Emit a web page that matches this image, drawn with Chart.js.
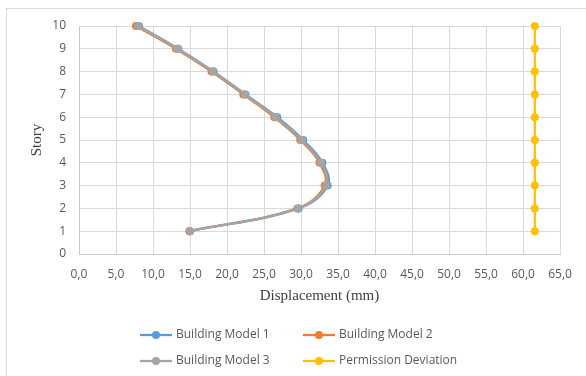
<!DOCTYPE html>
<html>
<head>
<meta charset="utf-8">
<script src="https://cdn.jsdelivr.net/npm/chart.js@4/dist/chart.umd.min.js"></script>
<style>
  html, body { margin: 0; padding: 0; background: #fff; }
  #wrap { width: 586px; height: 376px; position: relative; }
</style>
</head>
<body>
<div id="wrap"><canvas id="c" width="586" height="376"></canvas></div>
<script>
const stories = [1, 2, 3, 4, 5, 6, 7, 8, 9, 10];
const model1 = [15.0, 29.7, 33.6, 32.9, 30.3, 26.8, 22.5, 18.2, 13.4, 8.1];
const model2 = [14.9, 29.5, 33.2, 32.5, 29.9, 26.4, 22.2, 17.9, 13.1, 7.7];
const model3 = [15.0, 29.6, 33.4, 32.7, 30.1, 26.6, 22.4, 18.1, 13.3, 8.0];
const permission = [61.6, 61.6, 61.6, 61.6, 61.6, 61.6, 61.6, 61.6, 61.6, 61.6];
const seriesNames = ['Building Model 1', 'Building Model 2', 'Building Model 3', 'Permission Deviation'];
const seriesColors = ['#5B9BD5', '#ED7D31', '#A5A5A5', '#FFC000'];

function pts(xs) { return xs.map((x, i) => ({ x: x, y: stories[i] })); }

function ds(idx, values, order, tension) {
  return {
    label: seriesNames[idx],
    data: pts(values),
    showLine: true,
    clip: false,
    borderColor: seriesColors[idx],
    backgroundColor: seriesColors[idx],
    pointBackgroundColor: seriesColors[idx],
    pointBorderColor: seriesColors[idx],
    borderWidth: 2.25,
    pointRadius: 4,
    pointBorderWidth: 0,
    tension: tension,
    order: order
  };
}

const frameAndLegend = {
  id: 'frameAndLegend',
  beforeDraw(chart) {
    const ctx = chart.ctx;
    ctx.save();
    ctx.fillStyle = '#ffffff';
    ctx.fillRect(0, 0, chart.width, chart.height);
    ctx.strokeStyle = '#d9d9d9';
    ctx.lineWidth = 1;
    ctx.strokeRect(6.5, 8.5, 800, 800);
    ctx.restore();
  },
  afterDraw(chart) {
    const ctx = chart.ctx;
    const cols = [140, 303];
    const rows = [335, 361];
    ctx.save();
    ctx.font = '12px "Open Sans"';
    ctx.textBaseline = 'middle';
    ctx.textAlign = 'left';
    for (let i = 0; i < 4; i++) {
      const x = cols[i % 2], y = rows[Math.floor(i / 2)];
      ctx.strokeStyle = seriesColors[i];
      ctx.lineWidth = 2.25;
      ctx.beginPath();
      ctx.moveTo(x, y);
      ctx.lineTo(x + 32, y);
      ctx.stroke();
      ctx.fillStyle = seriesColors[i];
      ctx.beginPath();
      ctx.arc(x + 16, y, 4, 0, Math.PI * 2);
      ctx.fill();
      ctx.fillStyle = '#595959';
      ctx.fillText(seriesNames[i], x + 36, y);
    }
    ctx.restore();
  }
};

new Chart(document.getElementById('c'), {
  type: 'scatter',
  data: {
    datasets: [
      ds(2, model3, 0, 0.4),
      ds(0, model1, 2, 0.4),
      ds(1, model2, 1, 0.4),
      ds(3, permission, 3, 0)
    ]
  },
  options: {
    responsive: false,
    animation: false,
    devicePixelRatio: 1,
    layout: { padding: { left: 0, right: 26, top: 26, bottom: 62 } },
    plugins: { legend: { display: false }, tooltip: { enabled: false } },
    scales: {
      x: {
        type: 'linear',
        min: 0, max: 65,
        afterFit(s) { s.height = 60; },
        ticks: {
          stepSize: 5,
          color: '#595959',
          font: { family: 'Open Sans', size: 12 },
          padding: 13,
          callback: v => v.toFixed(1).replace('.', ',')
        },
        grid: { color: '#d9d9d9', lineWidth: 1, drawTicks: false },
        border: { color: '#c8c8c8' },
        title: {
          display: true,
          text: 'Displacement (mm)',
          color: '#404040',
          font: { family: 'Liberation Serif', size: 15 },
          padding: { top: 0, bottom: 9 }
        }
      },
      y: {
        type: 'linear',
        min: 0, max: 10,
        afterFit(s) { s.width = 79; },
        ticks: {
          stepSize: 1,
          color: '#595959',
          font: { family: 'Open Sans', size: 12 },
          padding: 13
        },
        grid: { color: '#d9d9d9', lineWidth: 1, drawTicks: false },
        border: { color: '#c8c8c8' },
        title: {
          display: true,
          text: 'Story',
          color: '#404040',
          font: { family: 'Liberation Serif', size: 15 },
          padding: { top: 28, bottom: 0 }
        }
      }
    }
  },
  plugins: [frameAndLegend]
});
</script>
</body>
</html>
